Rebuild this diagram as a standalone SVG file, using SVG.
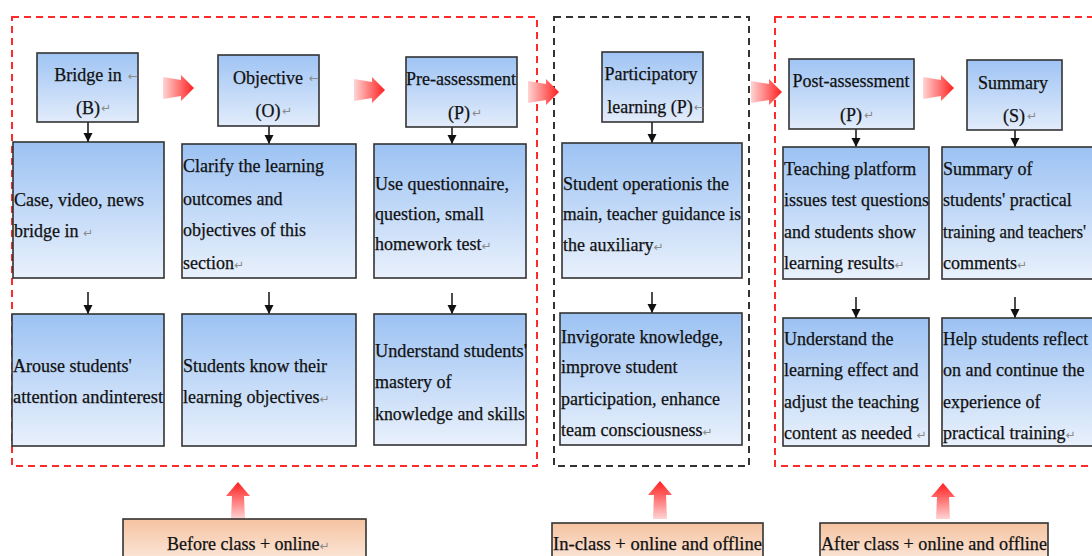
<svg xmlns="http://www.w3.org/2000/svg" width="1092" height="556" viewBox="0 0 1092 556">
<defs>
<linearGradient id="gHead" x1="0" y1="0" x2="0" y2="1"><stop offset="0" stop-color="#9fc4f4"/><stop offset="1" stop-color="#e2ecfb"/></linearGradient>
<linearGradient id="gBox" x1="0" y1="0" x2="0" y2="1"><stop offset="0" stop-color="#9cc2f3"/><stop offset="1" stop-color="#e9f1fc"/></linearGradient>
<linearGradient id="gPeach" x1="0" y1="0" x2="0" y2="1"><stop offset="0" stop-color="#f5c3a1"/><stop offset="1" stop-color="#fdeee4"/></linearGradient>
<linearGradient id="gRedH" x1="0" y1="0" x2="1" y2="0"><stop offset="0" stop-color="#ffd4d4"/><stop offset="1" stop-color="#ff1e1e"/></linearGradient>
<linearGradient id="gRedV" x1="0" y1="0" x2="0" y2="1"><stop offset="0" stop-color="#ff1e1e"/><stop offset="1" stop-color="#ffd4d4"/></linearGradient>
<marker id="ah" markerUnits="userSpaceOnUse" markerWidth="10" markerHeight="10" refX="9" refY="5" orient="auto"><path d="M0,0.5 L9,5 L0,9.5 z" fill="#111"/></marker>
<style>
.head{fill:url(#gHead);stroke:#333;stroke-width:1.6}
.box{fill:url(#gBox);stroke:#333;stroke-width:1.6}
.lab{fill:url(#gPeach);stroke:#333;stroke-width:1.6}
.t{font-family:"Liberation Serif","Times New Roman",serif;font-size:18px;fill:#111;stroke:#111;stroke-width:0.25}
.c{text-anchor:middle}
.m{font-family:"DejaVu Sans",sans-serif;font-size:12px;fill:#8a8a8a;stroke:none}
.red{fill:none;stroke:#ff2b2b;stroke-width:2;stroke-dasharray:7,5}
.blk{fill:none;stroke:#333;stroke-width:2;stroke-dasharray:7,5}
.ar{stroke:#111;stroke-width:1.5;marker-end:url(#ah)}
.bh{fill:url(#gRedH)}
.bv{fill:url(#gRedV)}
</style>
</defs>
<rect width="1092" height="556" fill="#fff"/>

<g id="containers">
<rect id="phase-before" class="red" x="12" y="17" width="525" height="449"/>
<rect id="phase-in" class="blk" x="554" y="17" width="195" height="449"/>
<rect id="phase-after" class="red" x="775" y="17" width="340" height="449"/>
</g>

<g id="connectors">
<line class="ar" x1="88" y1="122" x2="88" y2="142"/>
<line class="ar" x1="269" y1="126" x2="269" y2="144"/>
<line class="ar" x1="452" y1="127" x2="452" y2="144"/>
<line class="ar" x1="652" y1="122" x2="652" y2="143"/>
<line class="ar" x1="856" y1="129" x2="856" y2="147"/>
<line class="ar" x1="1015" y1="130" x2="1015" y2="147"/>
<line class="ar" x1="88" y1="292" x2="88" y2="314"/>
<line class="ar" x1="269" y1="292" x2="269" y2="314"/>
<line class="ar" x1="452" y1="293" x2="452" y2="314"/>
<line class="ar" x1="652" y1="292" x2="652" y2="313"/>
<line class="ar" x1="856" y1="297" x2="856" y2="318"/>
<line class="ar" x1="1015" y1="297" x2="1015" y2="318"/>
<path class="bh" d="M163,77 L181,80 L181,75 L194,88 L181,101 L181,96 L163,99 z"/>
<path class="bh" d="M354,79 L372,82 L372,77 L385,90 L372,103 L372,98 L354,101 z"/>
<path class="bh" d="M528,81 L546,84 L546,79 L559,92 L546,105 L546,100 L528,103 z"/>
<path class="bh" d="M751,81 L769,84 L769,79 L782,92 L769,105 L769,100 L751,103 z"/>
<path class="bh" d="M923,77 L941,80 L941,75 L954,88 L941,101 L941,96 L923,99 z"/>
<path class="bv" d="M238,482 L250,496 L244,496 L245,519 L231,519 L232,496 L226,496 z"/>
<path class="bv" d="M660,481 L672,495 L666,495 L667,519 L653,519 L654,495 L648,495 z"/>
<path class="bv" d="M943,483 L955,497 L949,497 L950,519 L936,519 L937,497 L931,497 z"/>
</g>

<g id="n-bridge">
<rect class="head" x="37" y="53" width="101" height="69"/>
<text class="t c" x="88" y="81">Bridge in</text><text class="m" x="128" y="80">←</text>
<text class="t c" x="88" y="114">(B)</text><text class="m" x="101" y="112">↵</text>
</g>
<g id="n-objective">
<rect class="head" x="218" y="55" width="101" height="71"/>
<text class="t c" x="268" y="84">Objective</text><text class="m" x="309" y="82">←</text>
<text class="t c" x="268" y="117">(O)</text><text class="m" x="282" y="115">↵</text>
</g>
<g id="n-pre">
<rect class="head" x="406" y="57" width="111" height="70"/>
<text class="t c" x="461" y="85">Pre-assessment</text>
<text class="t c" x="459" y="119">(P)</text><text class="m" x="472" y="117">↵</text>
</g>
<g id="n-part">
<rect class="head" x="602" y="52" width="101" height="70"/>
<text class="t c" x="651" y="80">Participatory</text>
<text class="t c" x="650" y="113">learning (P)</text><text class="m" x="694" y="111">←</text>
</g>
<g id="n-post">
<rect class="head" x="789" y="59" width="125" height="70"/>
<text class="t c" x="851" y="87">Post-assessment</text>
<text class="t c" x="851" y="121">(P)</text><text class="m" x="864" y="119">↵</text>
</g>
<g id="n-summary">
<rect class="head" x="967" y="60" width="95" height="70"/>
<text class="t c" x="1013" y="89">Summary</text>
<text class="t c" x="1014" y="122">(S)</text><text class="m" x="1027" y="120">↵</text>
</g>

<g id="b1">
<rect class="box" x="13" y="142" width="151" height="136"/>
<text class="t" x="14" y="206">Case, video, news</text>
<text class="t" x="14" y="237">bridge in <tspan class="m">↵</tspan></text>
</g>
<g id="b2">
<rect class="box" x="182" y="144" width="174" height="134"/>
<text class="t" x="183" y="172">Clarify the learning</text>
<text class="t" x="183" y="205">outcomes and</text>
<text class="t" x="183" y="236">objectives of this</text>
<text class="t" x="183" y="269">section<tspan class="m">↵</tspan></text>
</g>
<g id="b3">
<rect class="box" x="374" y="144" width="152" height="134"/>
<text class="t" x="375" y="190">Use questionnaire,</text>
<text class="t" x="375" y="220">question, small</text>
<text class="t" x="375" y="250">homework test<tspan class="m">↵</tspan></text>
</g>
<g id="b4">
<rect class="box" x="562" y="143" width="180" height="135"/>
<text class="t" x="563" y="190">Student operationis the</text>
<text class="t" x="563" y="220" textLength="178" lengthAdjust="spacingAndGlyphs">main, teacher guidance is</text>
<text class="t" x="563" y="251">the auxiliary<tspan class="m">↵</tspan></text>
</g>
<g id="b5">
<rect class="box" x="783" y="147" width="146" height="132"/>
<text class="t" x="784" y="175">Teaching platform</text>
<text class="t" x="784" y="206" textLength="145" lengthAdjust="spacingAndGlyphs">issues test questions</text>
<text class="t" x="784" y="238">and students show</text>
<text class="t" x="784" y="269">learning results<tspan class="m">↵</tspan></text>
</g>
<g id="b6">
<rect class="box" x="942" y="147" width="160" height="132"/>
<text class="t" x="943" y="175">Summary of</text>
<text class="t" x="943" y="206">students' practical</text>
<text class="t" x="943" y="238" textLength="143" lengthAdjust="spacingAndGlyphs">training and teachers'</text>
<text class="t" x="943" y="269">comments<tspan class="m">↵</tspan></text>
</g>

<g id="c1">
<rect class="box" x="12" y="314" width="152" height="132"/>
<text class="t" x="13" y="372">Arouse students'</text>
<text class="t" x="13" y="403" textLength="150" lengthAdjust="spacingAndGlyphs">attention andinterest</text>
</g>
<g id="c2">
<rect class="box" x="182" y="314" width="174" height="132"/>
<text class="t" x="183" y="372">Students know their</text>
<text class="t" x="183" y="403">learning objectives<tspan class="m">↵</tspan></text>
</g>
<g id="c3">
<rect class="box" x="374" y="314" width="152" height="131"/>
<text class="t" x="375" y="357" textLength="152" lengthAdjust="spacingAndGlyphs">Understand students'</text>
<text class="t" x="375" y="388">mastery of</text>
<text class="t" x="375" y="420" textLength="150" lengthAdjust="spacingAndGlyphs">knowledge and skills</text>
</g>
<g id="c4">
<rect class="box" x="560" y="313" width="182" height="132"/>
<text class="t" x="561" y="343">Invigorate knowledge,</text>
<text class="t" x="561" y="373">improve student</text>
<text class="t" x="561" y="405">participation, enhance</text>
<text class="t" x="561" y="436">team consciousness<tspan class="m">↵</tspan></text>
</g>
<g id="c5">
<rect class="box" x="783" y="318" width="146" height="128"/>
<text class="t" x="784" y="345">Understand the</text>
<text class="t" x="784" y="376">learning effect and</text>
<text class="t" x="784" y="408">adjust the teaching</text>
<text class="t" x="784" y="439">content as needed <tspan class="m">↵</tspan></text>
</g>
<g id="c6">
<rect class="box" x="942" y="318" width="160" height="128"/>
<text class="t" x="943" y="345" textLength="145" lengthAdjust="spacingAndGlyphs">Help students reflect</text>
<text class="t" x="943" y="376">on and continue the</text>
<text class="t" x="943" y="408">experience of</text>
<text class="t" x="943" y="439">practical training<tspan class="m">↵</tspan></text>
</g>

<g id="l-before">
<rect class="lab" x="123" y="519" width="243" height="50"/>
<text class="t" x="167" y="550">Before class + online<tspan class="m">↵</tspan></text>
</g>
<g id="l-in">
<rect class="lab" x="552" y="523" width="211" height="46"/>
<text class="t" x="553" y="550" textLength="209" lengthAdjust="spacingAndGlyphs">In-class + online and offline</text>
</g>
<g id="l-after">
<rect class="lab" x="820" y="523" width="228" height="46"/>
<text class="t" x="821" y="550" textLength="226" lengthAdjust="spacingAndGlyphs">After class + online and offline</text>
</g>
</svg>
